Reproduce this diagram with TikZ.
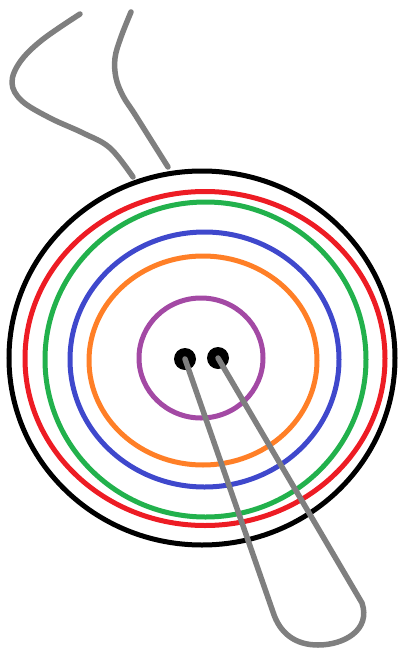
\documentclass[tikz,border=0pt]{standalone}
\begin{document}
\begin{tikzpicture}[x=1pt,y=-1pt,
  ring/.style={line width=5pt},
  wire/.style={line width=5.5pt,draw={rgb,255:red,127;green,127;blue,127},line cap=round,line join=round},
  dot/.style={circle,fill=black,inner sep=0pt,minimum size=22pt}]
\definecolor{cred}{RGB}{237,28,36}
\definecolor{cgreen}{RGB}{34,177,76}
\definecolor{cblue}{RGB}{63,72,204}
\definecolor{corange}{RGB}{255,127,39}
\definecolor{cpurple}{RGB}{163,73,164}
\useasboundingbox (0,0) rectangle (400,648);
% rings
\draw[ring,black]   (202,358) ellipse [x radius=193, y radius=187];
\draw[ring,cred]    (205,358.5) ellipse [x radius=180, y radius=167];
\draw[ring,cgreen]  (205.5,359.5) ellipse [x radius=160.5, y radius=157.5];
\draw[ring,cblue]   (204.5,359.5) ellipse [x radius=134.5, y radius=127.5];
\draw[ring,corange] (203,360.5) ellipse [x radius=114, y radius=104.5];
\draw[ring,cpurple] (201,358) ellipse [x radius=62, y radius=60];
% dots
\node[dot] (d1) at (185,359) {};
\node[dot] (d2) at (218,358) {};
% top wires
\coordinate (w1s) at (80,14);
\coordinate (w1e) at (133,177);
\coordinate (w2s) at (131,12);
\coordinate (w2e) at (168,167);
\draw[wire] plot[smooth,tension=0.6] coordinates {(w1s) (42,40) (20,62) (12,83) (22,101) (50,118) (83,133) (110,148) (w1e)};
\draw[wire] plot[smooth,tension=0.6] coordinates {(w2s) (121,37) (115,58) (116,78) (123,96) (134,113) (151,140) (w2e)};
% bottom loop
\coordinate (l1) at (273,612);
\coordinate (lb) at (318,645);
\coordinate (l2) at (362,603);
\draw[wire] (d1.center) -- (l1) .. controls (280,634) and (296,645) .. (lb)
  .. controls (344,645) and (371,630) .. (l2) -- (d2.center);
\end{tikzpicture}
\end{document}
